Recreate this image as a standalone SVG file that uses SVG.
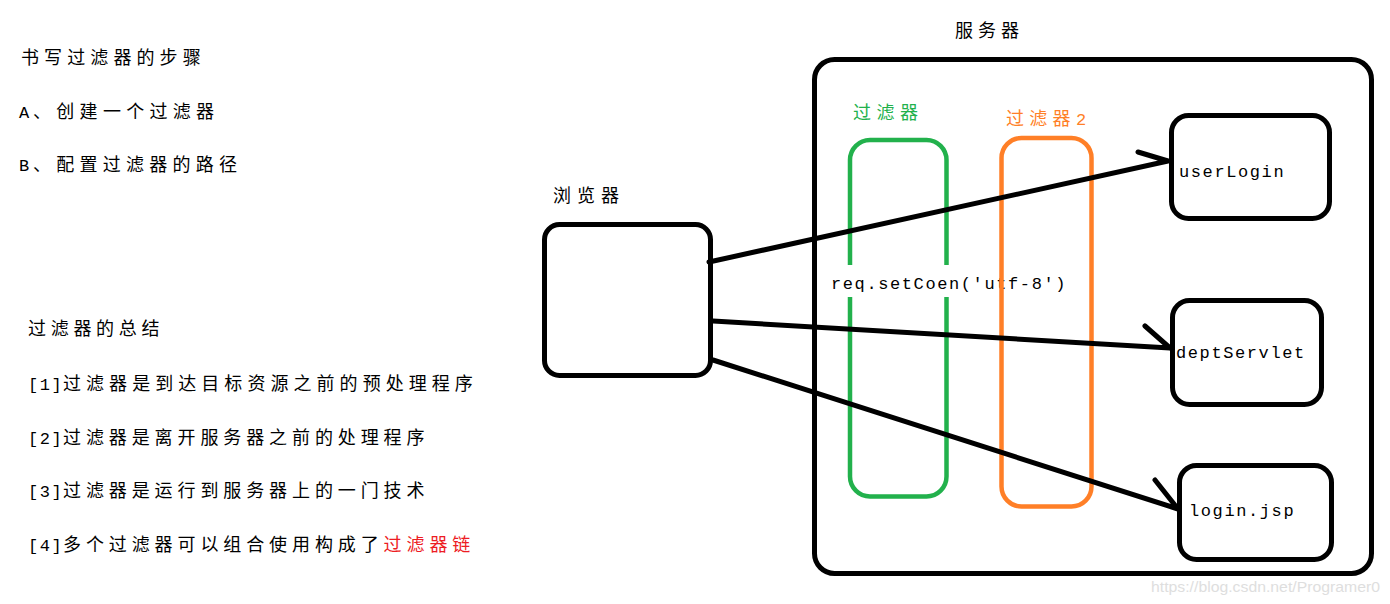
<svg xmlns="http://www.w3.org/2000/svg" width="1390" height="604" viewBox="0 0 1390 604">
<style>
.t{font-family:"Noto Sans CJK SC","Liberation Serif",sans-serif;font-size:18px;fill:#000}
.lat{font-family:"Liberation Mono",monospace;font-size:17px;letter-spacing:1.6px}
.code{font-family:"Liberation Mono",monospace;font-size:17px;letter-spacing:1.6px;fill:#000}
.box{fill:none;stroke:#000;stroke-width:5}
.conn{fill:none;stroke:#000;stroke-width:5;stroke-linecap:round;stroke-linejoin:round}
.wm{font-family:"Liberation Sans",Arial,sans-serif;font-size:14px;fill:#dedede}
</style>
<rect width="1390" height="604" fill="#fff"/>

<g id="notes">
<text class="t" x="21" y="64" letter-spacing="5.1">书写过滤器的步骤</text>
<text class="t" y="118"><tspan class="lat" x="19">A</tspan><tspan x="33" letter-spacing="5.3">、创建一个过滤器</tspan></text>
<text class="t" y="171"><tspan class="lat" x="19">B</tspan><tspan x="33" letter-spacing="5.25">、配置过滤器的路径</tspan></text>
<text class="t" x="28" y="335" letter-spacing="4.7">过滤器的总结</text>
<text class="t" y="390"><tspan class="lat" x="28">[1]</tspan><tspan x="63" letter-spacing="5.05">过滤器是到达目标资源之前的预处理程序</tspan></text>
<text class="t" y="444"><tspan class="lat" x="28">[2]</tspan><tspan x="63" letter-spacing="4.9">过滤器是离开服务器之前的处理程序</tspan></text>
<text class="t" y="497"><tspan class="lat" x="28">[3]</tspan><tspan x="63" letter-spacing="4.9">过滤器是运行到服务器上的一门技术</tspan></text>
<text class="t" y="551"><tspan class="lat" x="28">[4]</tspan><tspan x="63" letter-spacing="4.9">多个过滤器可以组合使用构成了<tspan fill="#ed1c24">过滤器链</tspan></tspan></text>
</g>

<g id="server">
<rect class="box" x="814.5" y="59.5" width="557" height="514" rx="20"/>
<text class="t" x="955" y="37" letter-spacing="5">服务器</text>
</g>

<g id="filter1">
<rect x="850" y="140" width="96.5" height="356.5" rx="20" fill="none" stroke="#22b14c" stroke-width="4.5"/>
<text class="t" x="853" y="119" letter-spacing="5.5" style="fill:#22b14c">过滤器</text>
</g>

<g id="filter-code">
<rect x="826" y="265" width="172" height="32" fill="#fff"/>
<text class="code" x="831" y="289">req.setCoen('utf-8')</text>
</g>

<g id="filter2">
<rect x="1001.5" y="138" width="90" height="368.5" rx="20" fill="none" stroke="#ff7f27" stroke-width="4.5"/>
<text class="t" x="1006" y="125" letter-spacing="5.3" style="fill:#ff7f27">过滤器<tspan class="lat">2</tspan></text>
</g>

<g id="browser">
<rect class="box" x="544.5" y="224.5" width="166" height="151" rx="15"/>
<text class="t" x="553" y="202" letter-spacing="6">浏览器</text>
</g>

<g id="userLogin">
<rect class="box" x="1171.5" y="115.5" width="158" height="103" rx="17"/>
<text class="code" x="1179" y="177">userLogin</text>
</g>

<g id="deptServlet">
<rect class="box" x="1172.5" y="300.5" width="149" height="104" rx="17"/>
<text class="code" x="1176" y="358">deptServlet</text>
</g>

<g id="loginjsp">
<rect class="box" x="1179.5" y="465.5" width="152" height="94" rx="17"/>
<text class="code" x="1189" y="516">login.jsp</text>
</g>

<g id="connectors">
<path class="conn" d="M709 262 L1168 161 M1138 152 L1168 161"/>
<path class="conn" d="M713 321 L1170 348 M1145 326 L1170 348"/>
<path class="conn" d="M713 360 L1178 509 M1155 480 L1178 509"/>
</g>

<text class="wm" x="1151" y="592" textLength="229" lengthAdjust="spacingAndGlyphs">https://blog.csdn.net/Programer0</text>
</svg>
